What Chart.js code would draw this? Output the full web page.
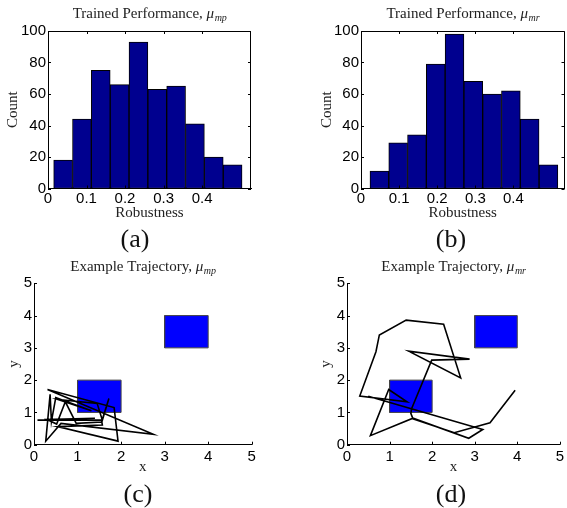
<!DOCTYPE html>
<html><head><meta charset="utf-8">
<script src="https://cdn.jsdelivr.net/npm/chart.js@4/dist/chart.umd.min.js"></script>
<style>
html,body{margin:0;padding:0;background:#fff;}
#wrap{position:relative;width:567px;height:508px;overflow:hidden;}
canvas{position:absolute;}
</style></head><body>
<div id="wrap">
<canvas id="ca" style="left:0;top:0" width="283" height="254"></canvas>
<canvas id="cb" style="left:283px;top:0" width="284" height="254"></canvas>
<canvas id="cc" style="left:0;top:254px" width="283" height="254"></canvas>
<canvas id="cd" style="left:283px;top:254px" width="284" height="254"></canvas>
</div>
<script>
// ---------- data ----------
const robustnessTicks = [0, 0.1, 0.2, 0.3, 0.4];
const countTicks = [0, 20, 40, 60, 80, 100];
const positionTicks = [0, 1, 2, 3, 4, 5];

const binCentersMp = [0.0392, 0.0881, 0.1370, 0.1859, 0.2348, 0.2837, 0.3326, 0.3815, 0.4304, 0.4793];
const countsMp     = [18, 44, 75, 66, 93, 63, 65, 41, 20, 15];
const binCentersMr = [0.0482, 0.0975, 0.1468, 0.1961, 0.2454, 0.2947, 0.3440, 0.3933, 0.4426, 0.4919];
const countsMr     = [11, 29, 34, 79, 98, 68, 60, 62, 44, 15];

const obstacleX = [1, 3];
const obstacleY = [1, 3];
const obstacleSize = 1;

const trajMpX = [0.08,1.55,1.57,0.54,1.93,1.84,0.31,2.74,0.62,0.27,0.37,0.40,0.50,1.32,0.55,1.45,1.57,1.72,1.55,0.97,0.72,0.52,0.30,1.40];
const trajMpY = [0.76,0.77,0.61,0.56,0.11,1.15,1.71,0.32,0.66,0.11,1.56,0.72,1.46,1.05,1.40,1.28,0.76,1.43,0.70,0.66,1.33,0.64,0.78,0.82];

const trajMrX = [3.95,3.36,2.52,1.55,1.50,1.52,1.99,2.88,1.45,2.67,2.27,1.39,0.76,0.68,0.30,1.41,0.98,0.55,1.55,2.86,3.19,0.50];
const trajMrY = [1.69,0.68,0.37,0.80,0.97,1.12,2.62,2.65,2.90,2.07,3.73,3.86,3.40,2.88,1.51,1.33,1.71,0.28,0.82,0.20,0.47,1.50];

// ---------- helpers ----------
const NAVY = 'rgb(0,0,143)';
const SERIF = '"Liberation Serif", "DejaVu Serif", serif';
const SANS = '"Liberation Sans", Arial, sans-serif';

const decor = {
  id: 'decor',
  afterDraw(chart, args, o) {
    const {ctx, chartArea: a, scales} = chart;
    ctx.save();
    ctx.strokeStyle = '#000'; ctx.lineWidth = 1;
    const L = 3;
    ctx.beginPath();
    scales.x.ticks.forEach(t => {
      const px = Math.round(scales.x.getPixelForValue(t.value)) + 0.5;
      ctx.moveTo(px, a.bottom); ctx.lineTo(px, a.bottom - L);
      if (o.box) { ctx.moveTo(px, a.top); ctx.lineTo(px, a.top + L); }
    });
    scales.y.ticks.forEach(t => {
      const py = Math.round(scales.y.getPixelForValue(t.value)) + 0.5;
      ctx.moveTo(a.left, py); ctx.lineTo(a.left + L, py);
      if (o.box) { ctx.moveTo(a.right, py); ctx.lineTo(a.right - L, py); }
    });
    if (o.box) {
      const t = Math.round(a.top) + 0.5, r = Math.round(a.right) - 0.5;
      ctx.moveTo(a.left, t); ctx.lineTo(r, t); ctx.lineTo(r, a.bottom);
    }
    ctx.stroke();
    // title with subscript
    ctx.fillStyle = '#222'; ctx.textBaseline = 'middle'; ctx.textAlign = 'left';
    ctx.font = '15px ' + SERIF; const w1 = ctx.measureText(o.title).width;
    ctx.font = 'italic 15px ' + SERIF; const w2 = ctx.measureText('μ').width;
    ctx.font = 'italic 10px ' + SERIF; const w3 = ctx.measureText(o.sub).width;
    let x0 = (a.left + a.right) / 2 - (w1 + w2 + w3) / 2;
    ctx.font = '15px ' + SERIF; ctx.fillText(o.title, x0, o.titleY);
    ctx.font = 'italic 15px ' + SERIF; ctx.fillText('μ', x0 + w1, o.titleY);
    ctx.font = 'italic 10px ' + SERIF; ctx.fillText(o.sub, x0 + w1 + w2 + 0.5, o.titleY + 4);
    // caption
    ctx.font = '26px ' + SERIF; ctx.textAlign = 'center'; ctx.fillStyle = '#111';
    ctx.fillText(o.caption, o.capX, o.capY);
    ctx.restore();
  }
};

function fixTicks(values) {
  return (s) => { s.ticks = values.map(v => ({value: v})); };
}

function histChart(id, centers, counts, xMax, g, sub, caption) {
  return new Chart(document.getElementById(id), {
    type: 'bar',
    data: { datasets: [{
      data: centers.map((c, i) => ({x: c, y: counts[i]})),
      backgroundColor: NAVY, borderColor: '#000', borderWidth: 1, borderSkipped: false,
      barPercentage: 1, categoryPercentage: 1
    }]},
    options: {
      responsive: false, animation: false,
      layout: { padding: { left: 0, top: g.top, right: g.right, bottom: 0 } },
      plugins: { legend: {display: false}, tooltip: {enabled: false},
        decor: { box: true, title: 'Trained Performance, ', sub: sub, titleY: g.titleY, caption: caption, capX: g.capX, capY: g.capY } },
      scales: {
        x: { type: 'linear', min: 0, max: xMax, offset: false,
             afterBuildTicks: fixTicks(robustnessTicks),
             afterFit: s => { s.height = g.xh; },
             grid: { display: false, drawTicks: false, tickLength: 0, offset: false },
             border: { display: true, color: '#000', width: 1 },
             ticks: { color: '#000', font: { family: SANS, size: 15 }, padding: 1, maxRotation: 0, autoSkip: false,
                      callback: v => String(v) },
             title: { display: true, text: 'Robustness', color: '#222', font: { family: SERIF, size: 15 }, padding: { top: 0, bottom: g.xtp } } },
        y: { type: 'linear', min: 0, max: 100,
             afterBuildTicks: fixTicks(countTicks),
             afterFit: s => { s.width = g.left; },
             grid: { display: false, drawTicks: false, tickLength: 0 },
             border: { display: true, color: '#000', width: 1 },
             ticks: { color: '#000', font: { family: SANS, size: 15 }, padding: 2, autoSkip: false },
             title: { display: true, text: 'Count', color: '#222', font: { family: SERIF, size: 15 }, padding: { top: g.ytp, bottom: 0 } } }
      }
    },
    plugins: [decor]
  });
}

function rectData(k) {
  const x = obstacleX[k], y = obstacleY[k], s = obstacleSize;
  return [{x: x, y: y}, {x: x + s, y: y}, {x: x + s, y: y + s}, {x: x, y: y + s}, {x: x, y: y}];
}

function trajChart(id, xs, ys, g, sub, caption) {
  const ds = [{
    data: xs.map((x, i) => ({x: x, y: ys[i]})),
    showLine: true, borderColor: '#000', borderWidth: 1.6, pointRadius: 0, tension: 0, fill: false
  }];
  obstacleX.forEach((_, k) => ds.push({
    data: rectData(k), showLine: true, borderColor: '#444', borderWidth: 1,
    backgroundColor: '#0000ff', fill: 'shape', pointRadius: 0, tension: 0
  }));
  return new Chart(document.getElementById(id), {
    type: 'scatter',
    data: { datasets: ds },
    options: {
      responsive: false, animation: false,
      layout: { padding: { left: 0, top: g.top, right: g.right, bottom: 0 } },
      plugins: { legend: {display: false}, tooltip: {enabled: false},
        decor: { box: false, title: 'Example Trajectory, ', sub: sub, titleY: g.titleY, caption: caption, capX: g.capX, capY: g.capY } },
      scales: {
        x: { type: 'linear', min: 0, max: 5,
             afterBuildTicks: fixTicks(positionTicks),
             afterFit: s => { s.height = g.xh; },
             grid: { display: false, drawTicks: false, tickLength: 0 },
             border: { display: true, color: '#000', width: 1 },
             ticks: { color: '#000', font: { family: SANS, size: 15 }, padding: 3, maxRotation: 0, autoSkip: false },
             title: { display: true, text: 'x', color: '#222', font: { family: SERIF, size: 15 }, padding: { top: 0, bottom: g.xtp } } },
        y: { type: 'linear', min: 0, max: 5,
             afterBuildTicks: fixTicks(positionTicks),
             afterFit: s => { s.width = g.left; },
             grid: { display: false, drawTicks: false, tickLength: 0 },
             border: { display: true, color: '#000', width: 1 },
             ticks: { color: '#000', font: { family: SANS, size: 15 }, padding: 2, autoSkip: false },
             title: { display: true, text: 'y', color: '#222', font: { family: SERIF, size: 15 }, padding: { top: g.ytp, bottom: 0 } } }
      }
    },
    plugins: [decor]
  });
}

histChart('ca', binCentersMp, countsMp, 0.527,
  { top: 31, right: 32, left: 48, xh: 65.5, xtp: 31.7, ytp: 4.3, titleY: 14, capX: 135, capY: 240 }, 'mp', '(a)');
histChart('cb', binCentersMr, countsMr, 0.534,
  { top: 31, right: 2.5, left: 78, xh: 65.5, xtp: 31.7, ytp: 35, titleY: 14, capX: 168, capY: 240 }, 'mr', '(b)');
trajChart('cc', trajMpX, trajMpY,
  { top: 29.3, right: 31.3, left: 34, xh: 63.3, xtp: 32.3, ytp: 5, titleY: 13.3, capX: 138, capY: 240.7 }, 'mp', '(c)');
trajChart('cd', trajMrX, trajMrY,
  { top: 29.3, right: 3, left: 64, xh: 63.3, xtp: 32.3, ytp: 33.7, titleY: 13.3, capX: 168, capY: 240.7 }, 'mr', '(d)');
</script>
</body></html>
